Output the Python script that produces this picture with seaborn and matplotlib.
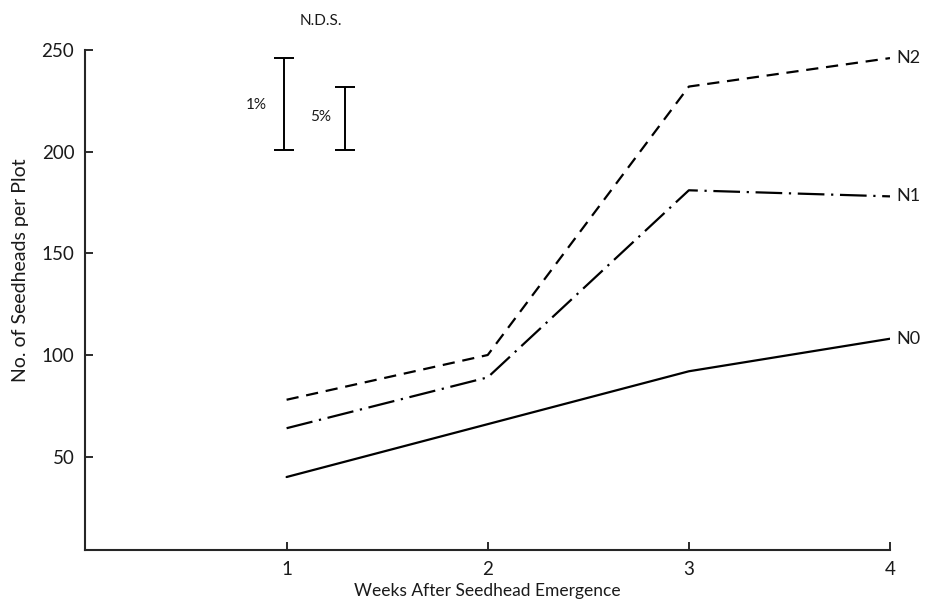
import pandas as pd
import matplotlib
matplotlib.use('Agg')
import matplotlib.pyplot as plt
import seaborn as sns

# Values
weeks = [1, 2, 3, 4]
n0 = [40, 66, 92, 108]
n1 = [64, 89, 181, 178]
n2 = [78, 100, 232, 246]

# N.D.S. bars (least significant difference)
lsd_labels = ['1%', '5%']
lsd_low = [201, 201]
lsd_high = [246, 232]

x_ticks = [1, 2, 3, 4]
y_ticks = [50, 100, 150, 200, 250]

df = pd.DataFrame({
    'week': weeks * 3,
    'seedheads': n0 + n1 + n2,
    'treatment': ['N0'] * 4 + ['N1'] * 4 + ['N2'] * 4,
})

sns.set_style('ticks')
plt.rcParams['font.family'] = ['Lato', 'DejaVu Sans']
plt.rcParams['text.color'] = '#1a1a1a'
plt.rcParams['axes.labelcolor'] = '#1a1a1a'
plt.rcParams['xtick.color'] = '#1a1a1a'
plt.rcParams['ytick.color'] = '#1a1a1a'

fig = plt.figure(figsize=(9.29, 6.02), dpi=100)
ax = fig.add_axes([0.092, 0.086, 0.866, 0.831])

sns.lineplot(data=df, x='week', y='seedheads', style='treatment',
             dashes={'N0': '', 'N1': (12, 3, 1, 3), 'N2': (5.5, 3.5)},
             color='black', linewidth=1.6, legend=False, ax=ax)

# series labels at the right end
for name, vals in [('N2', n2), ('N1', n1), ('N0', n0)]:
    ax.text(weeks[-1] + 0.03, vals[-1], name, fontsize=13,
            va='center', ha='left', clip_on=False)

# N.D.S. bars
lsd_x = [0.985, 1.29]
for xpos, lo, hi in zip(lsd_x, lsd_low, lsd_high):
    ax.errorbar([xpos], [(lo + hi) / 2], yerr=[[(hi - lo) / 2]], fmt='none',
                ecolor='black', elinewidth=1.4, capsize=7, capthick=1.4)
ax.text(0.85, 223, lsd_labels[0], fontsize=11, ha='center', va='center')
ax.text(1.17, 217, lsd_labels[1], fontsize=11, ha='center', va='center')
ax.text(1.17, 264, 'N.D.S.', fontsize=11, ha='center', va='center', clip_on=False)

ax.set_xlim(0, 4)
ax.set_ylim(4, 250)
ax.set_xticks(x_ticks)
ax.set_yticks(y_ticks)
ax.tick_params(direction='in', length=6, width=1.3, labelsize=13.5, pad=8)
sns.despine(ax=ax)
for s in ['left', 'bottom']:
    ax.spines[s].set_linewidth(1.5)

ax.set_xlabel('Weeks After Seedhead Emergence', fontsize=12.5, labelpad=3)
ax.set_ylabel('No. of Seedheads per Plot', fontsize=14)
ax.yaxis.set_label_coords(-0.07, 0.56)

fig.savefig('out.png', dpi=100)
